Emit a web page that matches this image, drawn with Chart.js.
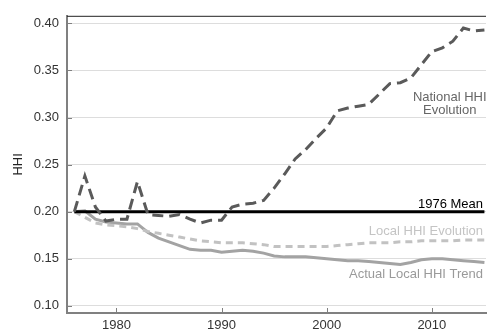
<!DOCTYPE html>
<html>
<head>
<meta charset="utf-8">
<script src="https://cdn.jsdelivr.net/npm/chart.js@4.4.1/dist/chart.umd.min.js"></script>
<style>
  html, body { margin: 0; padding: 0; background: #ffffff; }
  #wrap { width: 487px; height: 330px; }
</style>
</head>
<body>
<div id="wrap"><canvas id="c" width="487" height="330"></canvas></div>
<script>
// ---- data ----
const years = [1976,1977,1978,1979,1980,1981,1982,1983,1984,1985,1986,1987,1988,1989,1990,
  1991,1992,1993,1994,1995,1996,1997,1998,1999,2000,2001,2002,2003,2004,2005,2006,2007,2008,2009,2010,
  2011,2012,2013,2014,2015];
const nationalHHI = [0.200,0.238,0.205,0.190,0.192,0.192,0.232,0.197,0.196,0.195,0.197,0.192,0.188,0.191,0.191,
  0.205,0.208,0.209,0.212,0.225,0.240,0.256,0.266,0.278,0.289,0.307,0.310,0.312,0.314,0.325,0.336,0.337,0.342,0.356,0.370,
  0.374,0.381,0.395,0.392,0.393];
const localHHIEvolution = [0.200,0.194,0.188,0.186,0.185,0.184,0.182,0.179,0.177,0.175,0.173,0.171,0.169,0.168,0.167,
  0.167,0.167,0.166,0.165,0.163,0.163,0.163,0.163,0.163,0.163,0.164,0.165,0.166,0.167,0.167,0.167,0.168,0.168,0.169,0.169,
  0.169,0.169,0.170,0.170,0.170];
const actualLocalHHI = [0.200,0.201,0.192,0.189,0.188,0.187,0.187,0.178,0.172,0.168,0.164,0.160,0.159,0.159,0.157,
  0.158,0.159,0.158,0.156,0.153,0.152,0.152,0.152,0.151,0.150,0.149,0.148,0.148,0.147,0.146,0.145,0.144,0.146,0.149,0.150,
  0.150,0.149,0.148,0.147,0.146];
const meanValue = 0.20;
const meanYears = [1976, 2015];
const xTickValues = [1980, 1990, 2000, 2010];
const yTickValues = [0.10, 0.15, 0.20, 0.25, 0.30, 0.35, 0.40];
const labels = {
  national: ["National HHI", "Evolution"],
  mean: "1976 Mean",
  local: "Local HHI Evolution",
  actual: "Actual Local HHI Trend",
  yTitle: "HHI"
};

const FONT = "'Liberation Sans', Arial, Helvetica, sans-serif";
const pts = (arr) => years.map((y, i) => ({x: y, y: arr[i]}));

const decor = {
  id: 'decor',
  afterDraw(chart) {
    const ctx = chart.ctx;
    const a = chart.chartArea;
    const xs = chart.scales.x, ys = chart.scales.y;
    ctx.save();
    // top border
    ctx.strokeStyle = '#222';
    ctx.lineWidth = 1;
    ctx.beginPath();
    ctx.moveTo(a.left, a.top + 0.5);
    ctx.lineTo(a.right, a.top + 0.5);
    ctx.stroke();
    // inward ticks
    ctx.strokeStyle = '#808080';
    ctx.lineWidth = 1;
    ys.ticks.forEach(t => {
      const py = Math.round(ys.getPixelForValue(t.value)) + 0.5;
      ctx.beginPath(); ctx.moveTo(a.left, py); ctx.lineTo(a.left + 5, py); ctx.stroke();
    });
    xs.ticks.forEach(t => {
      const px = Math.round(xs.getPixelForValue(t.value)) + 0.5;
      ctx.beginPath(); ctx.moveTo(px, a.bottom); ctx.lineTo(px, a.bottom - 5); ctx.stroke();
    });
    // annotations
    ctx.font = '13px ' + FONT;
    ctx.textBaseline = 'middle';
    ctx.textAlign = 'center';
    ctx.fillStyle = '#666666';
    const nx = xs.getPixelForValue(2011.7);
    ctx.fillText(labels.national[0], nx, ys.getPixelForValue(0.321));
    ctx.fillText(labels.national[1], nx, ys.getPixelForValue(0.3075));
    ctx.textAlign = 'right';
    const rx = a.right - 3;
    ctx.fillStyle = '#000000';
    ctx.fillText(labels.mean, rx, ys.getPixelForValue(0.2075));
    ctx.fillStyle = '#c4c4c4';
    ctx.fillText(labels.local, rx, ys.getPixelForValue(0.1785));
    ctx.fillStyle = '#9a9a9a';
    ctx.fillText(labels.actual, rx, ys.getPixelForValue(0.1335));
    ctx.restore();
  }
};

new Chart(document.getElementById('c'), {
  type: 'line',
  data: {
    datasets: [
      { label: 'Actual Local HHI Trend', data: pts(actualLocalHHI), borderColor: '#a3a3a3', borderWidth: 3, pointRadius: 0, tension: 0, order: 4 },
      { label: 'Local HHI Evolution', data: pts(localHHIEvolution), borderColor: '#c2c2c2', borderWidth: 3, borderDash: [7, 5], pointRadius: 0, tension: 0, order: 3 },
      { label: '1976 Mean', data: meanYears.map(y => ({x: y, y: meanValue})), borderColor: '#000000', borderWidth: 3, pointRadius: 0, order: 2 },
      { label: 'National HHI Evolution', data: pts(nationalHHI), borderColor: '#5a5a5a', borderWidth: 3, borderDash: [11, 6], pointRadius: 0, tension: 0, order: 1 }
    ]
  },
  options: {
    responsive: false,
    animation: false,
    events: [],
    layout: { padding: { top: 11, right: 1, bottom: 0, left: 0 } },
    plugins: { legend: { display: false }, tooltip: { enabled: false } },
    scales: {
      x: {
        type: 'linear',
        min: 1975.3,
        max: 2015.15,
        afterBuildTicks: (s) => { s.ticks = xTickValues.map(v => ({value: v})); },
        afterFit: (s) => { s.height = 17; },
        grid: { display: false, drawTicks: false },
        border: { display: true, color: '#808080', width: 2 },
        ticks: { padding: 5, color: '#333', font: { family: FONT, size: 13 }, maxRotation: 0, callback: (v) => String(v) }
      },
      y: {
        type: 'linear',
        min: 0.0924,
        max: 0.408,
        afterBuildTicks: (s) => { s.ticks = yTickValues.map(v => ({value: v})); },
        afterFit: (s) => { s.width = 67; },
        grid: { display: true, color: '#dddddd', lineWidth: 1, drawTicks: false },
        border: { display: true, color: '#808080', width: 2 },
        title: { display: true, text: labels.yTitle, color: '#222', font: { family: FONT, size: 13 }, padding: { top: 11, bottom: 0 } },
        ticks: { padding: 8, color: '#333', font: { family: FONT, size: 13 }, callback: (v) => Number(v).toFixed(2) }
      }
    }
  },
  plugins: [decor]
});
</script>
</body>
</html>
